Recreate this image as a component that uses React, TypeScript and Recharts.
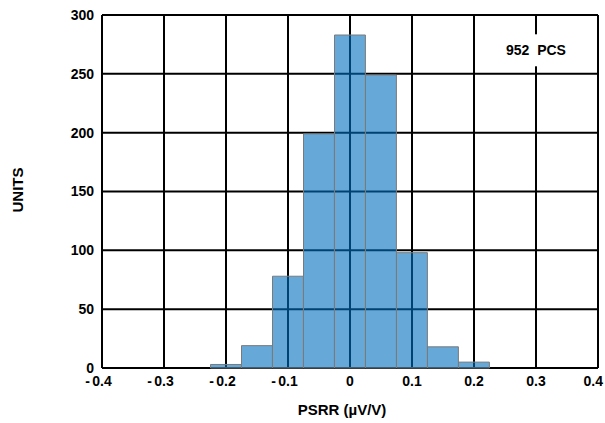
import React from "react";
import { BarChart, Bar, XAxis, YAxis, CartesianGrid, ReferenceDot } from "recharts";

const binCenters = [-0.2, -0.15, -0.1, -0.05, 0, 0.05, 0.1, 0.15, 0.2];
const unitCounts = [3, 19, 78, 199, 283, 249, 98, 18, 5];
const xTicks = [-0.4, -0.3, -0.2, -0.1, 0, 0.1, 0.2, 0.3, 0.4];
const xTickLabels = ["- 0.4", "- 0.3", "- 0.2", "- 0.1", "0", "0.1", "0.2", "0.3", "0.4"];
const yTicks = [0, 50, 100, 150, 200, 250, 300];
const pcsLabel = "952  PCS";
const pcsPos = { x: 0.3, y: 270 };

const data = binCenters.map((c, i) => ({ x: c, units: unitCounts[i] }));

const FONT = "'Liberation Sans', Arial, sans-serif";

const XTick = (props: any) => {
  const { x, y, payload } = props;
  const idx = xTicks.findIndex((t) => Math.abs(t - payload.value) < 1e-9);
  const label = idx >= 0 ? xTickLabels[idx] : String(payload.value);
  const neg = label.startsWith("- ");
  const num = neg ? label.slice(2) : label;
  const isLast = idx === xTicks.length - 1;
  return (
    <g>
      <text
        x={isLast ? x + 5 : x}
        y={y}
        dy="0.71em"
        textAnchor={isLast ? "end" : "middle"}
        fontFamily={FONT}
        fontWeight="bold"
        fontSize={14}
        fill="#000"
      >
        {num}
      </text>
      {neg && (
        <text x={x - 12} y={y} dy="0.71em" textAnchor="end" fontFamily={FONT} fontWeight="bold" fontSize={14} fill="#000">
          -
        </text>
      )}
    </g>
  );
};

const PcsShape = (props: any) => {
  const { cx, cy } = props;
  return (
    <g>
      <rect x={cx - 32} y={cy - 16} width={64} height={32} fill="#fff" />
      <text x={cx} y={cy} dy="0.355em" textAnchor="middle" fontFamily={FONT} fontWeight="bold" fontSize={14} fill="#000" style={{ whiteSpace: "pre" }}>
        {pcsLabel}
      </text>
    </g>
  );
};

export default function App() {
  return (
    <div style={{ position: "absolute", left: 0, top: 0, width: 605, height: 423, background: "#fff" }}>
      <BarChart
        width={605}
        height={423}
        data={data}
        margin={{ top: 15, right: 7, left: 0, bottom: 0 }}
        barCategoryGap={0}
        barGap={0}
      >
        <CartesianGrid stroke="#000" strokeWidth={2} vertical={true} horizontal={true} />
        <XAxis
          dataKey="x"
          type="number"
          domain={[-0.4, 0.4]}
          ticks={xTicks}
          interval={0}
          height={55}
          axisLine={false}
          tickLine={false}
          tickSize={6}
          tickMargin={2}
          tick={<XTick />}
        />
        <YAxis
          type="number"
          domain={[0, 300]}
          ticks={yTicks}
          interval={0}
          width={102}
          axisLine={false}
          tickLine={false}
          tickSize={6}
          tickMargin={2}
          tick={{ fontFamily: FONT, fontWeight: "bold", fontSize: 14, fill: "#000" }}
        />
        <Bar
          dataKey="units"
          barSize={30.9}
          fill="rgb(0,110,190)"
          fillOpacity={0.6}
          stroke="#7a7a7a"
          strokeWidth={1}
          isAnimationActive={false}
        />
        <ReferenceDot x={pcsPos.x} y={pcsPos.y} r={0} shape={<PcsShape />} ifOverflow="visible" />
      </BarChart>
      <div
        style={{
          position: "absolute",
          left: 17,
          top: 190,
          transform: "translate(-50%, -50%) rotate(-90deg)",
          fontFamily: FONT,
          fontWeight: "bold",
          fontSize: 15,
          whiteSpace: "nowrap",
        }}
      >
        UNITS
      </div>
      <div
        style={{
          position: "absolute",
          left: 342,
          top: 409,
          transform: "translate(-50%, -50%)",
          fontFamily: FONT,
          fontWeight: "bold",
          fontSize: 15,
          whiteSpace: "nowrap",
        }}
      >
        PSRR (µV/V)
      </div>
    </div>
  );
}
